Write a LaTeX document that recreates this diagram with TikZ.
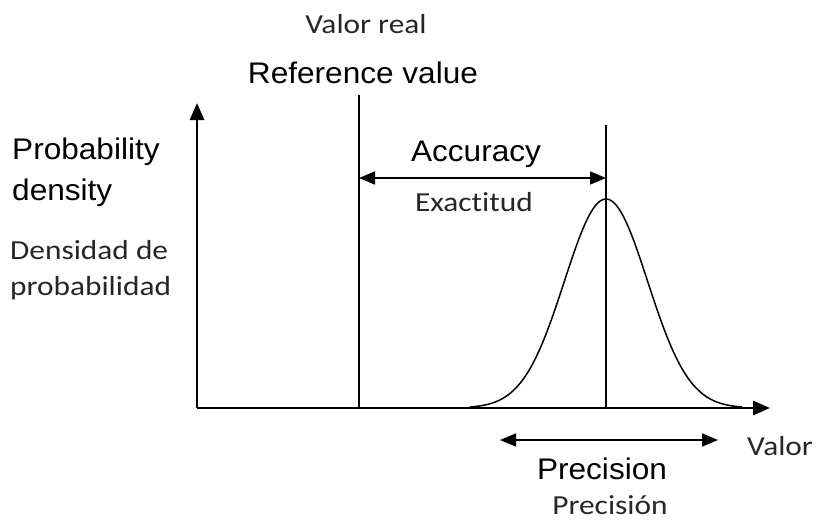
\documentclass[tikz,border=0pt]{standalone}
\usepackage{fontspec}
\usepackage{graphicx}
\usetikzlibrary{arrows.meta}
\newfontfamily\enfont{Liberation Sans}
\newfontfamily\esfont[Ligatures=NoCommon]{Carlito}
\newcommand{\entxt}[1]{\scalebox{1.06}[1]{#1}}
\newcommand{\estxt}[1]{\scalebox{1.14}[1]{#1}}
\begin{document}
\begin{tikzpicture}[x=1pt,y=-1pt,
  en/.style={inner sep=0pt, font=\enfont\fontsize{29.8}{31}\selectfont},
  es/.style={inner sep=0pt, text=black!85, font=\esfont\fontsize{27.5}{29}\selectfont},
  axisline/.style={line width=2.8pt, -{Triangle[length=17pt,width=14pt]}},
  thin/.style={line width=1.5pt},
  dim/.style={line width=1.6pt, {Triangle[length=16pt,width=13pt]}-{Triangle[length=16pt,width=13pt]}}]
\useasboundingbox (0,0) rectangle (817,520);
% coordinates
\coordinate (O) at (197,408);
\coordinate (ytop) at (197,103);
\coordinate (xend) at (770,408);
\coordinate (reftop) at (359,95);
\coordinate (refbot) at (359,408);
\coordinate (peaktop) at (606,125);
\coordinate (peakbot) at (606,408);
\coordinate (accL) at (359,178);
\coordinate (accR) at (606,178);
\coordinate (preL) at (500,440);
\coordinate (preR) at (718,440);
% lines
\draw[thin] (reftop) -- (refbot);
\draw[thin] (peaktop) -- (peakbot);
\draw[thin] plot[domain=470:742, samples=120, smooth]
  (\x, {408-209*exp(-0.5*((\x-606)/41.6)*((\x-606)/41.6))});
\draw[axisline] (O) -- (ytop);
\draw[axisline] (O) -- (xend);
\draw[dim] (accL) -- (accR);
\draw[dim] (preL) -- (preR);
% texts
\node[es, anchor=base] (valorreal) at (366,33) {\estxt{Valor real}};
\node[en, anchor=base] (refval) at (363,83) {\entxt{Reference value}};
\node[en, anchor=base west] (prob) at (12,159) {\entxt{Probability}};
\node[en, anchor=base west] (dens) at (12,200) {\entxt{density}};
\node[es, anchor=base west] (densidad) at (10,259) {\estxt{Densidad de}};
\node[es, anchor=base west] (probab) at (10,295) {\estxt{probabilidad}};
\node[en, anchor=base] (acc) at (476,161) {\entxt{Accuracy}};
\node[es, anchor=base] (exact) at (474,211) {\estxt{Exactitud}};
\node[en, anchor=base] (prec) at (602,479) {\entxt{Precision}};
\node[es, anchor=base] (precis) at (610,514) {\estxt{Precisión}};
\node[es, anchor=base west] (valor) at (747,455) {\estxt{Valor}};
\end{tikzpicture}
\end{document}
